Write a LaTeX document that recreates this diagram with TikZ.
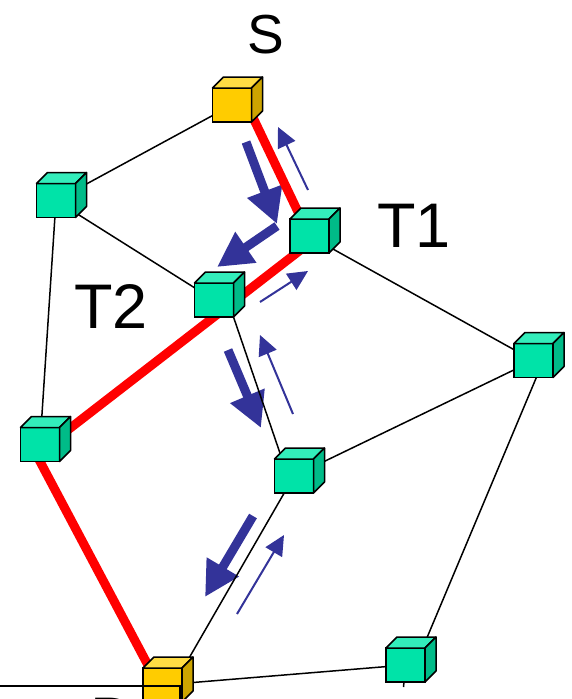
\documentclass[tikz,border=0pt]{standalone}
\usepackage{fontspec}
\setmainfont{Liberation Sans}
\usetikzlibrary{arrows.meta}

\definecolor{cubefront}{HTML}{00E3A8}
\definecolor{cubetop}{HTML}{33EDBB}
\definecolor{cubeside}{HTML}{00BB88}
\definecolor{endfront}{HTML}{FFCC00}
\definecolor{endtop}{HTML}{FFDD44}
\definecolor{endside}{HTML}{CCA400}
\definecolor{flowblue}{HTML}{333399}
\definecolor{routered}{HTML}{FF0000}

\tikzset{
  cubebox/.style={draw=black, line width=1.5pt, minimum width=39pt,
    minimum height=34pt, inner sep=0pt, outer sep=0pt, fill=cubefront},
  endbox/.style={cubebox, fill=endfront},
  facefill/.style={draw=black, line width=1.5pt, line join=round},
  edge/.style={draw=black, line width=1.5pt},
  route/.style={draw=routered, line width=9pt},
  bigflow/.style={draw=flowblue, line width=9pt,
    -{Triangle[length=35pt,width=35pt]}},
  smallflow/.style={draw=flowblue, line width=2pt,
    -{Triangle[length=20pt,width=19pt]}},
  tag/.style={inner sep=0pt, anchor=base west, text=black}
}

% top and side faces of a cube whose front face is node #1
\newcommand\cubeback[3]{%
  \draw[facefill, fill=#2] (#1.north west) -- ([shift={(11pt,11pt)}]#1.north west)
    -- ([shift={(11pt,11pt)}]#1.north east) -- (#1.north east) -- cycle;
  \draw[facefill, fill=#3] (#1.north east) -- ([shift={(11pt,11pt)}]#1.north east)
    -- ([shift={(11pt,11pt)}]#1.south east) -- (#1.south east) -- cycle;
}

\begin{document}
\begin{tikzpicture}[x=1pt, y=-1pt]
\useasboundingbox (0,0) rectangle (571,699);
\clip (0,0) rectangle (571,699);

% flow arrows
\coordinate (f1s) at (246,142); \coordinate (f1e) at (277,224);
\coordinate (f2s) at (277,226); \coordinate (f2e) at (217,267);
\coordinate (f3s) at (228,350); \coordinate (f3e) at (261,428);
\coordinate (f4s) at (253,516); \coordinate (f4e) at (205,597);
\coordinate (r1s) at (308,190); \coordinate (r1e) at (278,127);
\coordinate (r2s) at (260,302); \coordinate (r2e) at (308,271);
\coordinate (r3s) at (293,414); \coordinate (r3e) at (260,335);
\coordinate (r4s) at (237,614); \coordinate (r4e) at (284,535);
\draw[bigflow] (f1s) -- (f1e);
\draw[bigflow] (f2s) -- (f2e);
\draw[bigflow] (f3s) -- (f3e);
\draw[bigflow] (f4s) -- (f4e);
\draw[smallflow] (r1s) -- (r1e);
\draw[smallflow] (r2s) -- (r2e);
\draw[smallflow] (r3s) -- (r3e);
\draw[smallflow] (r4s) -- (r4e);

% node positions (front-face centres)
\coordinate (pS) at (232,105);
\coordinate (pA) at (56,200.5);
\coordinate (pT1) at (309.5,236);
\coordinate (pT2) at (214,300);
\coordinate (pR) at (533.5,360.5);
\coordinate (pB) at (40,444.5);
\coordinate (pM) at (294,476);
\coordinate (pQ) at (405.5,665);
\coordinate (pD) at (162.5,685);

% placeholders so edges can refer to names before the cubes are painted
\path (pS) node[cubebox, draw=none, fill=none] (S) {}
      (pA) node[cubebox, draw=none, fill=none] (A) {}
      (pT1) node[cubebox, draw=none, fill=none] (T1) {}
      (pT2) node[cubebox, draw=none, fill=none] (T2) {}
      (pR) node[cubebox, draw=none, fill=none] (R) {}
      (pB) node[cubebox, draw=none, fill=none] (B) {}
      (pM) node[cubebox, draw=none, fill=none] (M) {}
      (pQ) node[cubebox, draw=none, fill=none] (Q) {}
      (pD) node[cubebox, draw=none, fill=none] (D) {};

% links
\coordinate (qout) at (403.5,687);
\draw[edge] (S) -- (A);
\draw[edge] (A) -- (T2);
\draw[edge] (A) -- (B);
\draw[edge] (T1) -- (R);
\draw[edge] (T2.south east) -- ([xshift=-12pt]M.north);
\draw[edge] (M) -- (R);
\draw[edge] (M) -- ([xshift=11pt]D.center);
\draw[edge] ([xshift=10pt]R.center) -- ([xshift=10pt]Q.center);
\draw[edge] (Q) -- (D);
\draw[edge] (Q) -- (qout);

% chosen route
\draw[route] ([xshift=15pt]S.center) -- (T1.center);
\draw[route] ([yshift=-7pt]T1.center) -- ([yshift=-7pt]B.center);
\draw[route] ([xshift=-9pt]B.center) -- ([xshift=-4pt]D.center);

% cubes
\node[endbox] (S) at (pS) {};   \cubeback{S}{endtop}{endside}
\node[cubebox] (A) at (pA) {};  \cubeback{A}{cubetop}{cubeside}
\node[cubebox] (T1) at (pT1) {};\cubeback{T1}{cubetop}{cubeside}
\node[cubebox] (T2) at (pT2) {};\cubeback{T2}{cubetop}{cubeside}
\node[cubebox] (R) at (pR) {};  \cubeback{R}{cubetop}{cubeside}
\node[cubebox] (B) at (pB) {};  \cubeback{B}{cubetop}{cubeside}
\node[cubebox] (M) at (pM) {};  \cubeback{M}{cubetop}{cubeside}
\node[cubebox] (Q) at (pQ) {};  \cubeback{Q}{cubetop}{cubeside}
\node[endbox] (D) at (pD) {};   \cubeback{D}{endtop}{endside}

% line entering from the left
\coordinate (wl) at (-5,686);
\coordinate (wc) at (180,686);
\coordinate (wb) at (180,720);
\draw[edge] (wl) -- (wc) -- (wb);

% labels
\node[tag, font=\fontsize{55}{60}\selectfont] (lS) at (247.5,53) {S};
\node[tag, font=\fontsize{63}{70}\selectfont] (lT1) at (377,247) {T1};
\node[tag, font=\fontsize{63}{70}\selectfont] (lT2) at (74,328) {T2};
\node[tag, font=\fontsize{63}{70}\selectfont] (lD) at (90,741) {D};
\end{tikzpicture}
\end{document}
